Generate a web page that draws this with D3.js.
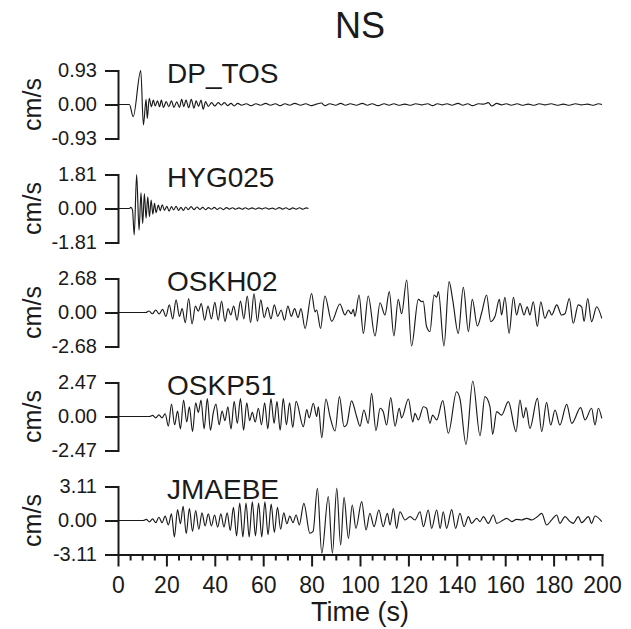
<!DOCTYPE html>
<html>
<head>
<meta charset="utf-8">
<script src="https://cdn.jsdelivr.net/npm/d3@7"></script>
<style>
  body { margin: 0; background: #fff; }
  text { font-family: "Liberation Sans", Arial, Helvetica, sans-serif; fill: #1a1a1a; }
  .trace { fill: none; stroke: #1a1a1a; stroke-width: 1.15; stroke-linejoin: round; }
  .axis path, .axis line { stroke: #1a1a1a; stroke-width: 2; }
  .axis path { stroke-linecap: square; }
</style>
</head>
<body>
<svg id="chart" width="631" height="629"></svg>
<script>
// station names and the peak velocity (cm/s) used for each y axis
let stations = ["DP_TOS", "HYG025", "OSKH02", "OSKP51", "JMAEBE"];
let peakValues = [0.93, 1.81, 2.68, 2.47, 3.11];
let timeLabels = [0, 20, 40, 60, 80, 100, 120, 140, 160, 180, 200];

// waveforms as [time (s), velocity (cm/s)] turning points
let dpTos = [[0,0],[4.7,0],[6.3,-0.33],[9.4,0.93],[10.5,-0.56],[11.6,0.14],[12.1,-0.38],[12.9,0.17],[13.8,-0.06],[14.6,0.12],[15.4,-0.04],[16.3,0.1],[17.2,-0.06],[17.9,0.12],[18.8,-0.08],[19.9,0.08],[21,-0.06],[22.1,0.1],[23.1,-0.08],[24.3,0.07],[25.4,-0.08],[26.3,0.14],[27.2,-0.06],[28.1,0.12],[29.2,-0.09],[30.3,0.14],[31.4,-0.1],[32.3,0.1],[33.3,-0.05],[34.3,0.12],[35.2,-0.13],[36.2,0.08],[37.3,-0.05],[38.7,0.05],[40,-0.04],[41.4,0.05],[42.7,-0.02],[44,0.05],[45.3,-0.03],[46.7,0.03],[48,-0.04],[49.5,0.03],[51,-0.02],[53,0.02],[55,-0.03],[57,0.02],[59,-0.02],[61,0.03],[63,-0.02],[65,0.02],[67,-0.03],[69,0.02],[71,-0.02],[73,0.03],[75.5,-0.02],[77.5,0.02],[80,-0.03],[82,0.01],[84,0.04],[85.5,-0.03],[87.5,0.02],[90,-0.02],[92,0.03],[94,-0.02],[96,0.02],[98.5,-0.02],[101,0.03],[103,-0.02],[105,0.02],[107.5,-0.03],[110,0.02],[112,-0.02],[114,0.02],[116,-0.02],[118.5,0.01],[121,-0.02],[123,0.02],[125.5,-0.01],[128,0.02],[130,-0.03],[132,0.02],[134,-0.01],[136,0.02],[138,-0.02],[140.5,0.03],[142.5,-0.02],[144.5,0.02],[146.5,-0.03],[149,0.02],[151,0.01],[153,0.05],[154.5,-0.04],[156.5,0.03],[158.5,-0.01],[160.5,0.02],[162.5,-0.02],[165,0.02],[167,-0.02],[169.5,0.01],[172,-0.02],[174,0.02],[176.5,-0.01],[179,0.02],[181.5,-0.02],[184,0.01],[186.5,-0.02],[189,0.02],[191.5,-0.01],[194,0.01],[196.5,-0.02],[198.5,0.02],[200,0]];

let hyg025 = [[0,0],[4.7,0],[5.3,0.06],[6.0,-0.08],[6.7,-1.41],[7.7,1.81],[8.7,-1.15],[9.5,0.84],[10.2,-0.8],[10.9,0.8],[11.6,-0.52],[12.3,0.62],[13.0,-0.44],[13.7,0.45],[14.4,-0.3],[15.1,0.27],[15.7,-0.22],[16.7,0.18],[17.4,-0.12],[18.3,0.2],[19.2,-0.1],[20.2,0.12],[21.1,-0.14],[22.1,0.1],[23,-0.08],[24,0.12],[25,-0.1],[26,0.06],[27,-0.1],[28,0.08],[29,-0.06],[30.2,0.1],[31.4,-0.06],[32.6,0.08],[33.8,-0.05],[35,0.06],[36.2,-0.06],[37.4,0.05],[38.6,-0.04],[39.8,0.06],[41,-0.05],[42.2,0.04],[43.5,-0.06],[44.8,0.05],[46,-0.03],[47.3,0.04],[48.6,-0.04],[50,0.03],[51.3,-0.04],[52.6,0.04],[54,-0.03],[55.4,0.03],[56.8,-0.04],[58.2,0.03],[59.6,-0.02],[61,0.04],[62.4,-0.03],[63.8,0.02],[65.2,-0.04],[66.6,0.05],[68,-0.03],[69.4,0.04],[70.8,-0.05],[72.2,0.03],[73.6,-0.03],[75,0.04],[76.4,-0.04],[77.8,0.03],[78.7,0]];

let oskh02 = [[0,0],[11.5,0],[12.8,0.12],[14.2,-0.1],[15.6,0.2],[17,-0.12],[18.4,0.25],[19.8,-0.3],[21.2,0.6],[22.6,-0.5],[24,1.0],[25.4,-0.3],[26.5,0.3],[27.8,-0.8],[29.2,1.1],[30.6,-0.9],[32,0.5],[33.2,0.1],[34.4,0.7],[35.8,-0.6],[37.2,0.5],[38.6,-0.5],[40,0.8],[41.4,-0.6],[42.8,0.9],[44.2,-0.7],[45.5,0.3],[46.6,-0.2],[47.8,0.5],[49.2,-0.6],[50.6,0.9],[52,-0.5],[53.4,1.3],[54.8,-0.8],[56.2,1.5],[57.6,-0.7],[59,1.0],[60.4,-0.4],[61.8,0.4],[63.2,-0.5],[64.6,0.6],[66,-0.3],[67.4,0.2],[68.8,-0.6],[70.2,0.5],[71.6,-0.3],[73,0.3],[74.4,-0.4],[75.6,0.3],[77.3,-1.25],[80,1.5],[81.4,0.05],[82.1,0.2],[83.7,-1.25],[85.5,1.3],[88.3,-0.7],[91.7,0.67],[93.8,-0.2],[95.1,0.2],[96.4,-0.1],[97.2,0.25],[97.9,-0.3],[99.6,1.38],[101.4,-1.64],[103.4,1.3],[106.2,-1.85],[108.3,0.77],[110.3,-0.2],[112.1,1.64],[114,-1.85],[115.8,1.04],[117.2,-0.1],[119.3,2.56],[121.3,-2.64],[124.1,1.04],[125.5,0.85],[126.1,0.9],[127.5,-1.1],[128.9,-1.5],[130.6,1.38],[131.7,1.2],[132.4,1.64],[134.7,-2.64],[136.8,2.43],[138.3,1.0],[140.6,-1.64],[142.7,1.98],[144.8,-1.5],[146.4,1.04],[148.5,-1.06],[150.3,0.0],[152.3,1.38],[154,-0.72],[155.8,-0.3],[157.6,1.04],[158.5,-0.2],[159.9,1.2],[161.6,-1.64],[163.4,1.2],[164.7,-0.2],[166.1,0.72],[167.8,-0.2],[169.1,0.45],[170.2,-0.2],[171.6,0.85],[173.3,-1.1],[174.7,0.85],[176.4,-0.46],[178.1,0.2],[179.2,-0.2],[181.3,0.6],[183.3,-0.2],[184.7,-0.1],[186.5,1.1],[188.1,-0.85],[190.2,0.6],[191.6,0.45],[192.6,-0.7],[194.1,1.1],[195.7,-0.72],[197.8,0.45],[199.9,-0.46]];

let oskp51 = [[0,0],[13,0],[14.3,0.08],[15.6,-0.1],[16.9,0.12],[18.2,-0.1],[19.5,0.2],[20.8,-0.7],[22.1,0.9],[23.4,-0.6],[24.6,0.4],[25.8,-0.9],[27.1,1.2],[28.4,-0.4],[29.5,0.7],[30.8,-1.1],[32.1,1.0],[33.2,0.3],[34.3,1.2],[35.6,-0.9],[36.9,1.3],[38.2,-1.0],[39.4,0.3],[40.5,0.9],[41.8,-0.6],[43,0.4],[44.2,-0.3],[45.4,0.7],[46.7,-0.9],[48,1.1],[49.3,-0.5],[50.6,1.3],[51.9,-1.0],[53.2,1.0],[54.4,-0.3],[55.5,0.3],[56.7,-0.4],[58,0.6],[59.3,-0.6],[60.6,1.0],[61.9,-0.9],[63.2,1.3],[64.5,-0.5],[65.7,1.1],[67,-1.0],[68.3,1.3],[69.6,-0.6],[70.9,1.0],[72.2,-0.8],[73.6,1.1],[76.6,-0.74],[78,0.5],[79,-0.1],[80.7,0.96],[82.1,0],[82.8,0.7],[84.2,-1.54],[85.9,1.27],[87.6,0],[89.7,-1.05],[91.5,1.44],[93.4,-0.74],[94.5,-0.6],[96.5,1.13],[98.6,0],[100,-0.7],[101.6,0.47],[103.4,-0.5],[104.8,1.68],[106.6,-1.03],[108.3,0.6],[109.6,0.35],[111,-0.62],[112.7,1.37],[114.5,-0.7],[116.2,0.6],[117.2,-0.1],[120,1.27],[121.8,-0.4],[122.7,0.23],[124.1,-0.25],[126.2,0.71],[127.5,0.6],[128.9,-0.5],[130,0.1],[131.7,-0.25],[134.2,1.15],[136.5,-1.22],[139.9,1.8],[141.3,1.3],[143.8,-2.02],[146.6,2.58],[149.6,-1.39],[151.6,1.44],[153.7,0.72],[154.8,-1.3],[156.5,0.35],[158.5,0.1],[161.3,1.08],[164.5,-1.1],[166.1,1.2],[167.5,-0.1],[168.6,0.65],[170.2,-0.86],[173.3,1.32],[175.1,-1.1],[177.1,1.03],[178.8,-0.62],[180.6,0.47],[182.6,-0.62],[185.4,0.88],[187.5,-0.5],[191.2,0.64],[193,-0.25],[195.7,0.6],[197.1,-0.62],[198.5,0.6],[199.9,-0.14]];

let jmaebe = [[0,0],[10.4,0],[11.7,0.1],[13,-0.12],[14.3,0.15],[15.6,-0.2],[16.9,0.3],[18.2,-0.2],[19.5,0.4],[20.8,-0.4],[22.1,0.6],[23.3,-1.5],[24.6,1.0],[25.8,-0.3],[26.9,1.3],[28.2,-1.2],[29.5,1.1],[30.8,-1.0],[32.1,0.9],[33.4,-0.8],[34.7,0.7],[36,-0.5],[37.3,0.6],[38.6,-0.5],[39.9,0.5],[41.2,-0.6],[42.5,0.6],[43.8,-0.6],[45.1,0.7],[46.4,-0.9],[47.7,1.2],[49,-1.4],[50.3,1.6],[51.6,-1.5],[52.9,1.6],[54.2,-1.5],[55.5,1.7],[56.8,-1.4],[58.1,1.6],[59.4,-1.5],[60.7,1.7],[62,-1.3],[63.3,1.5],[64.6,-1.1],[65.9,1.2],[67.2,-0.8],[68.5,0.7],[69.8,-0.3],[71,0.4],[72.3,-0.2],[73.6,0.5],[74.9,-0.4],[76.8,1.57],[79.3,-1.17],[80.6,-1.0],[82.4,2.94],[84.2,-3.0],[86.9,2.18],[88.6,-3.0],[90.4,2.94],[92,-2.24],[93.4,2.12],[95.2,-1.63],[96.8,1.42],[98.3,-0.72],[100.7,1.72],[102.5,-0.87],[104.1,0.66],[105.8,-0.56],[107.8,0.96],[109.6,-0.56],[111.3,0.66],[112.4,-0.41],[113.8,1.1],[115.1,-0.72],[116.5,0.8],[118.6,0.05],[120.7,0.35],[122.7,0.05],[124.8,0.8],[126.2,-0.56],[128.2,0.96],[129.6,-0.72],[131.7,0.96],[133.1,-0.72],[134.4,0.8],[135.8,-0.72],[137.9,1.0],[139.5,-0.72],[141.3,0.66],[143,-0.56],[144.8,0.35],[146.1,-0.26],[148.2,0.2],[149.6,-0.1],[151,0.35],[153,-0.26],[155.1,0.5],[156.5,-0.26],[159.2,0.05],[160.6,0.2],[162.7,-0.1],[164.7,0.1],[166.8,0.05],[168.9,0.2],[171,0.05],[173,0.3],[175.1,0.65],[177.1,-0.41],[179.2,0.05],[181.3,0.5],[182.6,-0.26],[184.7,0.35],[186.8,-0.1],[188.1,-0.26],[190.2,0.35],[191.6,-0.2],[194.4,0.35],[195.7,-0.26],[197.1,0.41],[199.9,-0.1]];

let traces = [dpTos, hyg025, oskh02, oskp51, jmaebe];

let svg = d3.select("#chart");
let x = d3.scaleLinear().domain([0, 200]).range([118, 602]);
let halfHeight = 34;

svg.append("text")
    .attr("x", 360).attr("y", 38)
    .attr("text-anchor", "middle")
    .style("font-size", "36px")
    .text("NS");

stations.forEach(function(name, i){
    let zeroY = 104.5 + i * 104;
    let peak = peakValues[i];
    let y = d3.scaleLinear().domain([-peak, peak]).range([zeroY + halfHeight, zeroY - halfHeight]);

    // bracket style y axis, labels use a plain hyphen for the minus sign
    svg.append("g")
        .attr("class", "axis")
        .attr("transform", "translate(" + x(0) + ",0)")
        .call(d3.axisLeft(y).tickValues([peak, 0, -peak]).tickSize(13).tickSizeOuter(0).tickPadding(8)
            .tickFormat(d => d.toFixed(2)))
        .selectAll("text")
        .style("font-size", "20px");

    svg.append("text")
        .attr("transform", "translate(41," + zeroY + ") rotate(-90)")
        .attr("text-anchor", "middle")
        .style("font-size", "25px")
        .text("cm/s");

    svg.append("text")
        .attr("x", 167).attr("y", zeroY - 21.5)
        .style("font-size", "28px")
        .text(name);

    let line = d3.line()
        .x(d => x(d[0]))
        .y(d => y(d[1]))
        .curve(d3.curveMonotoneX);

    svg.append("path")
        .datum(traces[i])
        .attr("class", "trace")
        .attr("d", line);

    if(i === stations.length - 1){
        let bottom = zeroY + halfHeight;
        let xAxis = svg.append("g")
            .attr("class", "axis")
            .attr("transform", "translate(0," + bottom + ")")
            .call(d3.axisBottom(x).tickValues(d3.range(0, 201, 5)).tickSize(6).tickSizeOuter(0)
                .tickFormat(d => timeLabels.includes(d) ? d : ""));
        xAxis.selectAll(".tick line")
            .filter(d => timeLabels.includes(d))
            .attr("y2", 12);
        xAxis.selectAll("text")
            .attr("y", 22)
            .style("font-size", "23px");

        svg.append("text")
            .attr("x", 360).attr("y", 621)
            .attr("text-anchor", "middle")
            .style("font-size", "27px")
            .text("Time (s)");
    }
});
</script>
</body>
</html>
